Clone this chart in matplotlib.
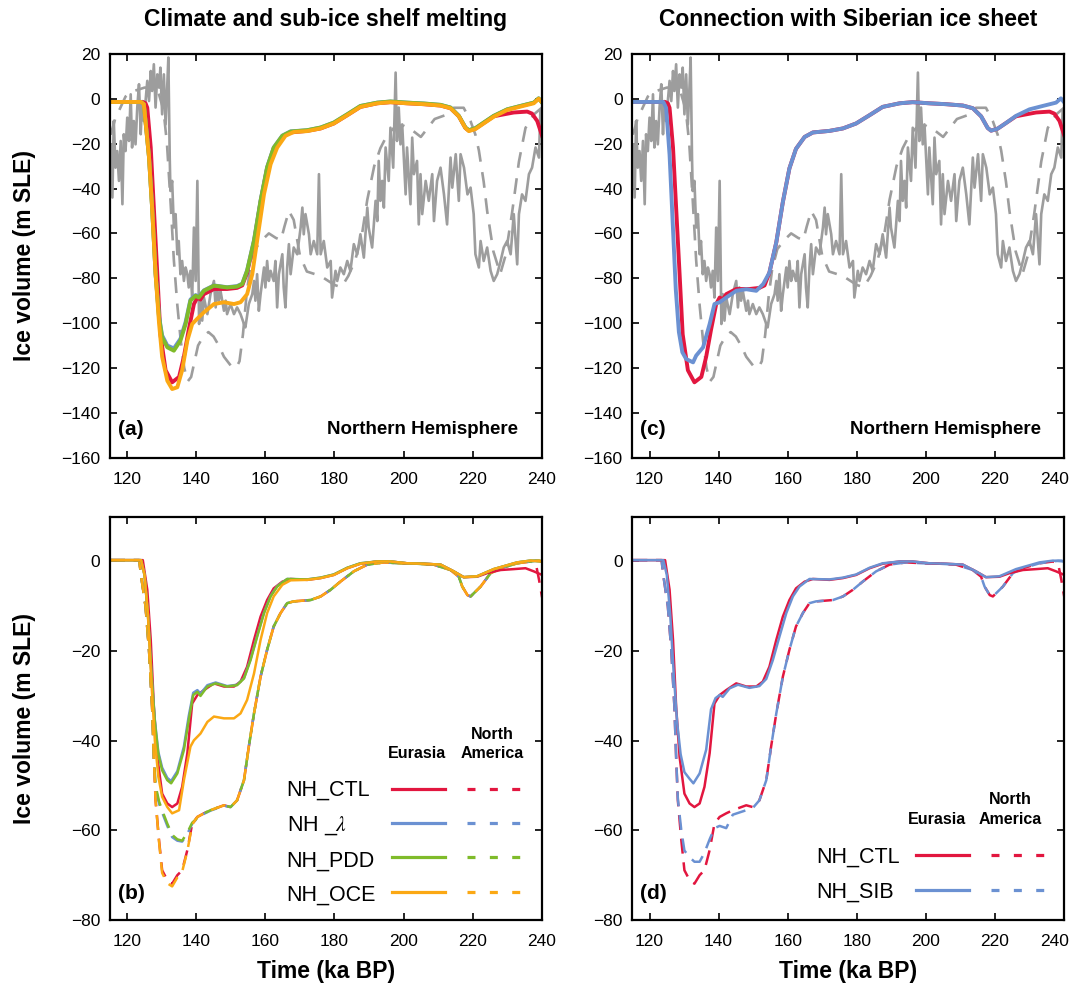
import numpy as np
import matplotlib
matplotlib.use('Agg')
import matplotlib.pyplot as plt
from matplotlib.lines import Line2D
from matplotlib.transforms import ScaledTranslation

plt.rcParams['font.family'] = ['Liberation Sans', 'DejaVu Sans']
plt.rcParams['mathtext.fontset'] = 'stix'

# ---- sea-level reconstructions (grey, panels a and c) ----
sl_age = [115.2, 115.7, 116.1, 116.6, 117.1, 117.6, 118.1, 118.6, 119.0, 119.5,
          120.0, 120.5, 121.0, 121.4, 121.9, 122.4, 122.9, 123.4, 123.9, 124.3,
          124.8, 125.8, 126.3, 126.8, 127.2, 127.7, 128.2, 128.7, 129.2, 129.6,
          130.1, 130.6, 131.1, 131.6, 131.9, 132.3, 132.5, 133.0, 133.5, 134.0,
          134.5, 134.9, 135.4, 135.9, 136.4, 136.9, 137.4, 137.8, 138.3, 138.8,
          139.3, 139.8, 140.3, 140.8, 141.2, 141.7, 142.2, 143.2, 144.1, 145.1,
          145.6, 146.0, 146.5, 147.0, 148.0, 148.5, 148.9, 149.9, 150.9, 151.8,
          152.8, 153.8, 154.2, 155.2, 156.2, 156.7, 157.1, 157.6, 158.1, 158.6,
          159.6, 160.0, 160.5, 161.0, 161.5, 162.4, 162.9, 163.4, 163.9, 164.9,
          165.3, 165.8, 166.3, 166.8, 167.3, 168.2, 169.2, 170.2, 170.7, 171.1,
          171.6, 172.6, 173.1, 174.0, 175.0, 175.5, 176.0, 176.9, 177.9, 178.9,
          179.3, 180.3, 180.8, 181.7, 182.7, 183.7, 184.6, 185.6, 186.6, 187.5,
          188.5, 189.5, 189.9, 190.9, 191.9, 192.4, 192.8, 193.3, 193.8, 194.3,
          194.8, 195.7, 196.2, 197.0, 197.7, 198.1, 198.6, 199.1, 199.6, 200.6,
          201.0, 202.0, 202.5, 203.0, 203.9, 204.4, 204.9, 205.4, 206.4, 207.3,
          208.3, 208.8, 209.7, 210.7, 211.7, 212.6, 213.6, 214.1, 215.1, 216.0,
          216.5, 217.5, 218.5, 219.4, 220.3, 220.8, 221.8, 222.3, 223.2, 224.2,
          225.2, 226.1, 227.1, 228.1, 229.0, 230.0, 231.0, 231.9, 232.9, 233.4,
          234.3, 235.3, 236.3, 237.2, 238.2, 239.2, 239.6]
sl_val = [-20.3, -44, -9.9, -30.7, -23.3, -36.6, -18.8, -47, -15.8, -23.3,
          -8.4, -18.8, 2, -21.7, -9.9, -20.3, -3.9, 6.5, -15.8, -1,
          -9.9, 8, -1, 12.4, 3.5, 15.4, -3.9, 10.9, 5, 13.9,
          -6.9, 10.9, -11.4, 6.5, 18.4, -26.2, -41.1, -36.6, -57.4, -51.4,
          -69.3, -63.4, -78.2, -72.3, -81.2, -75.2, -78.2, -84.1, -76.7, -88.6,
          -57.4, -81.2, -36.6, -100.4, -87.1, -98.9, -88.6, -96, -87.1, -81.2,
          -93, -84.1, -90, -85.6, -94.5, -90, -96, -91.5, -96, -93,
          -96, -100.4, -101.9, -91.5, -87.1, -81.2, -90, -78.2, -94.5, -87.1,
          -75.2, -84.1, -72.3, -81.2, -76.7, -81.2, -72.3, -93, -78.2, -69.3,
          -84.1, -93, -75.2, -64.8, -78.2, -66.3, -69.3, -57.4, -48.5, -60.4,
          -51.4, -60.4, -69.3, -63.4, -69.3, -33.6, -69.3, -63.4, -75.2, -72.3,
          -88.6, -76.7, -81.2, -75.2, -78.2, -72.3, -76.7, -64.8, -69.3, -60.4,
          -70.8, -48.5, -57.4, -66.3, -45.5, -54.5, -27.7, -45.5, -36.6, -48.5,
          -21.7, -36.6, -12.9, -30.7, 11.7, -18.8, -3.9, -20.3, -11.4, -42.6,
          -21.7, -47, -17.3, -33.6, -27.7, -56, -33.6, -51.4, -36.6, -45.5,
          -33.6, -54.5, -36.6, -30.7, -42.6, -56, -26.2, -39.6, -24.7, -45.5,
          -24.7, -30.7, -42.6, -39.6, -51.4, -69.3, -75.2, -63.4, -72.3, -66.3,
          -76.7, -81.2, -78.2, -72.3, -66.3, -63.4, -69.3, -51.4, -73.8, -51.4,
          -42.6, -45.5, -33.6, -30.7, -21.7, -26.2, -5.5]

sl2_age = [115.2, 116.5, 118, 119.5, 121, 123, 125, 127, 129, 130.5,
           131.5, 132.5, 133.5, 134.5, 135.5, 136.5, 137.5, 138.5, 139.5, 140.5,
           142, 143.5, 145, 146.5, 148, 150, 151.5, 152.5, 153.5, 154.5,
           155.5, 157, 159, 161, 163, 164.5, 165.5, 166.8, 168.2, 170,
           172, 174, 176, 178, 180, 182, 184, 186, 188, 189.5,
           191.5, 193.3, 195.3, 197.2, 200, 202.5, 205, 207, 209, 212.6,
           214.5, 217.4, 219.4, 220.8, 221.8, 223.2, 224.2, 226, 228, 229.5,
           231.4, 233.4, 235.3, 237.7, 240]
sl2_val = [-16, -9, -4, 1, 3, 4, 5, 5, 3, -5,
           -20, -45, -72, -92, -108, -120, -126, -124, -117, -110,
           -106, -104, -106, -110, -115, -119, -120, -117, -105, -88,
           -76, -67, -63, -60, -62, -63, -57, -50, -54, -70,
           -77, -78, -79, -81, -83, -84, -79, -72, -60, -45,
           -30, -22, -16, -13, -12, -14, -17, -13, -9, -7,
           -4, -4, -10, -16, -23, -37, -50, -68, -78, -70,
           -51, -28, -13, -7, -4]

# ---- Northern Hemisphere ice volume (panels a, c) ----
ctl_nh_age = [115, 124.5, 125.3, 125.8, 126.8, 127.7, 128.7, 129.6, 131.1, 133.0,
              135.0, 136.4, 137.8, 139.3, 140.3, 141.2, 142.2, 145.1, 148.9, 151.8,
              153.3, 154.7, 156.7, 158.6, 160.5, 162.4, 164.9, 167.3, 172.1, 176.0,
              179.8, 183.7, 187.5, 192.4, 196.2, 201.0, 205.9, 210.7, 213.6, 216.0,
              217.9, 218.9, 220.8, 223.2, 226.1, 228.1, 231.9, 235.8, 237.2, 238.7,
              240.1]
ctl_nh_val = [-1.4, -1.4, -2, -4, -21.7, -48.5, -78, -105, -121, -126.4,
              -124, -115, -103, -91.5, -88.6, -89.5, -87.1, -84.8, -84.8, -84.3,
              -83.2, -77.5, -64, -46, -31, -22.3, -17, -15, -14.3, -13.2,
              -11, -7.3, -3.6, -2, -1.5, -2, -2.4, -3, -4.2, -7.8,
              -13, -14.2, -13.3, -10.8, -7.8, -7.2, -6.1, -5.7, -6.6, -9.9,
              -16.5]

pdd_nh_age = [115, 124.0, 124.8, 126.3, 127.2, 128.2, 129.2, 130.1, 131.6, 133.5,
              135.4, 136.9, 138.3, 139.8, 140.7, 142.2, 145.1, 148.9, 151.8, 153.3,
              154.7, 156.7, 158.6, 160.5, 162.4, 164.9, 167.3, 172.1, 176.0, 179.8,
              183.7, 187.5, 192.4, 196.2, 201.0, 205.9, 210.7, 213.6, 216.0, 217.9,
              218.9, 220.8, 223.2, 226.1, 230.0, 233.8, 237.7, 239.1, 240.1]
pdd_nh_val = [-1.4, -1.4, -2.4, -26, -48.5, -78, -97.5, -106.4, -110.8, -112.3,
              -107.8, -100.4, -90, -87.8, -88.6, -85.6, -83.3, -84.1, -83.7, -82.6,
              -76.7, -63.3, -45.5, -30.6, -21.8, -16.5, -14.6, -14, -12.8, -10.6,
              -6.9, -3.2, -1.7, -1.2, -1.7, -2.1, -2.7, -3.9, -7.6, -12.8,
              -14, -13.1, -10.6, -7.6, -4.7, -3.2, -1.7, 0.2, -1.7]
lam_nh_val = [-1.4, -1.4, -2.4, -26, -48.5, -78, -97, -105.5, -110, -111.3,
              -107, -99.5, -89.5, -87.5, -88.2, -85.4, -83.2, -84, -83.5, -82.4,
              -76.5, -63, -45.3, -30.4, -21.7, -16.4, -14.5, -14, -12.8, -10.6,
              -6.9, -3.2, -1.7, -1.2, -1.7, -2.1, -2.7, -3.9, -7.6, -12.8,
              -14, -13.1, -10.6, -7.6, -4.7, -3.2, -1.7, 0.2, -1.7]

oce_nh_age = [115, 124.0, 124.8, 126.3, 127.2, 128.2, 129.2, 130.1, 131.6, 133.0,
              134.5, 135.9, 137.4, 138.8, 140.3, 142.2, 145.1, 148.0, 150.9, 152.8,
              154.7, 156.2, 157.6, 159.6, 161.5, 163.4, 165.8, 168.2, 172.1, 176.0,
              179.8, 183.7, 187.5, 192.4, 196.2, 201.0, 205.9, 210.7, 213.6, 216.0,
              217.9, 218.9, 220.8, 223.2, 226.1, 230.0, 233.8, 237.7, 239.1, 240.1]
oce_nh_val = [-1.4, -1.4, -2.4, -26, -48.5, -78, -100, -115, -125.7, -129.4,
              -128.6, -121, -107.8, -100.4, -98, -95.2, -91.5, -90.7, -91.5, -90.7,
              -87.1, -78.2, -63.3, -42.5, -29.2, -21.8, -16.5, -14.8, -14.4, -13.2,
              -11, -7.3, -3.6, -2, -1.5, -2, -2.4, -3, -4.2, -7.8,
              -13, -14.4, -13.5, -11, -8, -5, -3.5, -2, 0, -1.5]

sib_nh_age = [115, 124.0, 124.8, 125.8, 126.7, 127.6, 128.5, 129.5, 130.6, 132.6,
              133.5, 135.5, 137.4, 138.8, 140.3, 142.2, 145.1, 148.0, 150.9, 152.9,
              154.7, 156.7, 158.6, 160.5, 162.4, 164.9, 167.3, 172.1, 176.0, 179.8,
              183.7, 187.5, 192.4, 196.2, 201.0, 205.9, 210.7, 213.6, 216.0, 217.9,
              218.9, 220.8, 223.2, 226.1, 230.0, 233.8, 237.7, 239.1, 240.1]
sib_nh_val = [-1.4, -1.4, -4, -25, -55, -85, -104, -113, -116, -117.5,
              -114.5, -110.8, -100.4, -91.5, -90.7, -88.6, -85.6, -84.9, -85.6, -82.6,
              -77.5, -64, -46, -31, -22.3, -17, -15, -14.3, -13.2, -11,
              -7.3, -3.6, -2, -1.5, -2, -2.4, -3, -4.2, -7.8, -13,
              -14.2, -13.3, -10.8, -7.6, -4.7, -3.2, -1.7, 0.2, -1.7]

# ---- Eurasia (solid) and North America (dashed), panels b, d ----
ctl_eu_age = [115, 124.5, 125.8, 126.8, 127.7, 128.7, 130.1, 131.6, 133.0, 134.5,
              135.9, 137.4, 138.8, 140.3, 142.2, 145.1, 148.0, 150.9, 152.8, 154.7,
              156.7, 158.6, 160.5, 162.4, 164.9, 167.3, 172.1, 176.0, 179.8, 183.7,
              187.5, 192.4, 196.2, 201.0, 205.9, 210.7, 214.5, 217.4, 221.3, 224.2,
              228.1, 231.9, 235.3, 237.7, 240.1]
ctl_eu_val = [0.3, 0.3, -6.3, -17.5, -32.4, -43.6, -51.8, -54, -54.8, -54,
              -50.3, -42.8, -31.7, -29.8, -28.7, -27.2, -27.9, -27.9, -26.8, -23.5,
              -17.5, -12.3, -8.6, -6, -4.5, -3.9, -4.1, -3.7, -3, -1.5,
              -0.5, 0, 0, -0.4, -0.5, -0.7, -2.2, -3.5, -3.4, -2.6,
              -1.9, -1.7, -1.5, -2.2, -3]

eu_age = [115, 124.0, 125.0, 126.0, 127.0, 128.0, 129.0, 130.1, 131.6, 132.7,
          134.5, 136.4, 137.8, 139.1, 140.3, 141.2, 143.2, 145.6, 148.9, 151.8,
          153.8, 155.7, 157.6, 159.6, 161.5, 163.4, 166.3, 172.1, 176.0, 179.8,
          183.7, 187.5, 192.4, 196.2, 201.0, 205.9, 210.7, 214.5, 217.4, 221.3,
          226.1, 232.9, 236.8, 240.1]
pdd_eu_val = [0.3, 0.3, -3, -12, -25, -36, -43, -46.6, -48.8, -49.5,
              -47.3, -42.1, -35.4, -29.8, -29.1, -30, -27.9, -27.2, -27.9, -27.6,
              -26.1, -22, -16.8, -11.5, -7.8, -5.6, -3.9, -4, -3.6, -2.9,
              -1.4, -0.4, 0, 0, -0.4, -0.5, -0.7, -2.2, -3.5, -3.3,
              -1.7, -0.2, 0.2, 0]
lam_eu_val = [0.3, 0.3, -3, -12, -25, -35.5, -42.5, -46, -48.3, -49,
              -46.8, -41.3, -34.5, -29.3, -28.7, -29.5, -27.6, -27, -27.8, -27.5,
              -26, -21.8, -16.6, -11.4, -7.7, -5.5, -3.9, -4, -3.6, -2.9,
              -1.4, -0.4, 0, 0, -0.4, -0.5, -0.7, -2.2, -3.5, -3.3,
              -1.7, -0.2, 0.2, 0]
sib_eu_val = [0.3, 0.3, -3, -12, -25, -36, -43, -47, -48.5, -49.5,
              -47.3, -42, -33, -30.5, -29.8, -30.2, -28.3, -27.5, -28.2, -27.8,
              -26.2, -22, -16.8, -11.5, -7.8, -5.6, -3.9, -4, -3.6, -2.9,
              -1.4, -0.4, 0, 0, -0.4, -0.5, -0.7, -2.2, -3.5, -3.3,
              -1.7, -0.2, 0.2, 0]

oce_eu_age = [115, 124.0, 125.0, 126.0, 127.0, 128.0, 129.0, 130.1, 131.6, 133.0,
              135.0, 136.4, 138.3, 139.3, 141.2, 143.2, 145.1, 148.0, 150.9, 152.8,
              154.7, 156.7, 158.6, 160.5, 162.4, 164.9, 167.3, 172.1, 176.0, 179.8,
              183.7, 187.5, 192.4, 196.2, 201.0, 205.9, 210.7, 214.5, 217.4, 221.3,
              226.1, 232.9, 236.8, 240.1]
oce_eu_val = [0.3, 0.3, -3, -12, -27, -40, -48, -52.5, -54.8, -56.2,
              -55.5, -48.8, -41.3, -39.9, -38.4, -35.8, -34.6, -35, -35, -33.9,
              -30.9, -25, -17.5, -11.5, -7.8, -5.2, -4.2, -4.1, -3.7, -3,
              -1.5, -0.5, 0, 0, -0.4, -0.5, -0.7, -2.2, -3.5, -3.3,
              -1.7, -0.2, 0.2, 0]

na_age = [115, 123.5, 123.9, 125.3, 126.3, 127.2, 127.7, 128.2, 129.2, 130.1,
          131.6, 133.0, 134.5, 135.9, 137.4, 138.8, 140.3, 142.2, 144.1, 148.0,
          149.9, 151.8, 153.8, 155.2, 156.7, 158.6, 160.5, 162.4, 164.4, 166.3,
          168.2, 173.1, 176.0, 178.9, 181.7, 185.6, 189.5, 194.3, 199.1, 203.9,
          208.7, 213.6, 216.0, 217.0, 218.5, 219.4, 222.3, 225.2, 228.1, 232.9,
          236.8, 238.3, 239.2, 240.1]
ctl_na_val = [0.3, 0.3, -2.6, -10, -19.7, -32.4, -43.6, -53.3, -62.2, -68.9,
              -71.1, -71.9, -70, -68.9, -64.4, -58.5, -57, -56.2, -55.5, -54.4,
              -54.8, -53.3, -48.8, -41.3, -33.9, -25.7, -19.7, -14.5, -11.5, -9.3,
              -8.9, -8.6, -7.8, -6.3, -4.5, -2.2, -0.7, -0.2, -0.4, -0.5,
              -0.7, -1.9, -3.4, -5.6, -7.5, -7.8, -5.6, -2.6, -1.5, -0.4,
              0, -0.5, -4, -8]
pdd_na_val = [0.3, 0.3, -2.6, -10, -19.7, -32.4, -43.6, -50, -53.5, -55.5,
              -58.5, -61, -62, -62.3, -60.5, -58.3, -57.2, -56.2, -55.5, -54.4,
              -54.8, -53.3, -48.8, -41.3, -33.9, -25.7, -19.7, -14.5, -11.5, -9.3,
              -8.9, -8.6, -7.8, -6.3, -4.5, -2.2, -0.7, -0.2, -0.4, -0.5,
              -0.7, -1.9, -3.4, -5.6, -7.5, -7.8, -5.6, -2.6, -1.5, -0.4,
              0, 0.2, 0.2, 0]
lam_na_val = [0.3, 0.3, -2.6, -10, -19.7, -32.4, -43.6, -50.5, -54, -56,
              -59, -61.5, -62.3, -62.5, -60.8, -58.5, -57.3, -56.3, -55.6, -54.5,
              -54.8, -53.3, -48.8, -41.3, -33.9, -25.7, -19.7, -14.5, -11.5, -9.3,
              -8.9, -8.6, -7.8, -6.3, -4.5, -2.2, -0.7, -0.2, -0.4, -0.5,
              -0.7, -1.9, -3.4, -5.6, -7.5, -7.8, -5.6, -2.6, -1.5, -0.4,
              0, 0.2, 0.2, 0]
oce_na_val = [0.3, 0.3, -2.6, -10, -19.7, -32.4, -43.6, -53.3, -62.5, -69.5,
              -71.8, -72.5, -70.5, -69.2, -64.6, -58.7, -57, -56.2, -55.5, -54.4,
              -54.8, -53.3, -48.8, -41.3, -33.9, -25.7, -19.7, -14.5, -11.5, -9.3,
              -8.9, -8.6, -7.8, -6.3, -4.5, -2.2, -0.7, -0.2, -0.4, -0.5,
              -0.7, -1.9, -3.4, -5.6, -7.5, -7.8, -5.6, -2.6, -1.5, -0.4,
              0, 0.2, 0.2, 0]
sib_na_val = [0.3, 0.3, -2.6, -10, -19.7, -32.4, -43.6, -53, -60, -64.5,
              -66, -67, -67, -65, -62, -59.5, -59, -59.5, -56.5, -55.5,
              -55, -53.3, -48.8, -41.3, -33.9, -25.7, -19.7, -14.5, -11.5, -9.3,
              -8.9, -8.6, -7.8, -6.3, -4.5, -2.2, -0.7, -0.2, -0.4, -0.5,
              -0.7, -1.9, -3.4, -5.6, -7.5, -7.8, -5.6, -2.6, -1.5, -0.4,
              0, 0.2, 0.2, 0]

RED = '#e2163f'
BLUE = '#6b91d2'
GREEN = '#7fbb2a'
ORANGE = '#fba814'
GREY = '#9d9d9d'

fig = plt.figure(figsize=(10.74, 9.9), dpi=100)
ax_a = fig.add_axes([0.1024, 0.5377, 0.4020, 0.4078])
ax_c = fig.add_axes([0.5887, 0.5377, 0.4020, 0.4078])
ax_b = fig.add_axes([0.1024, 0.0707, 0.4020, 0.4074])
ax_d = fig.add_axes([0.5887, 0.0707, 0.4020, 0.4074])

for ax in (ax_a, ax_c):
    ax.plot(sl_age, sl_val, color=GREY, lw=1.9)
    ax.plot(sl2_age, sl2_val, color=GREY, lw=1.9, dashes=(6, 4))
    ax.set_ylim(-160, 20)
    ax.set_yticks(np.arange(-160, 21, 20))

ax_a.plot(ctl_nh_age, ctl_nh_val, color=RED, lw=2.8)
ax_a.plot(pdd_nh_age, lam_nh_val, color=BLUE, lw=2.8)
ax_a.plot(pdd_nh_age, pdd_nh_val, color=GREEN, lw=2.8)
ax_a.plot(oce_nh_age, oce_nh_val, color=ORANGE, lw=2.8)

ax_c.plot(ctl_nh_age, ctl_nh_val, color=RED, lw=2.8)
ax_c.plot(sib_nh_age, sib_nh_val, color=BLUE, lw=2.8)

dash = (6, 3.5)
ax_b.plot(na_age, ctl_na_val, color=RED, lw=1.8, dashes=dash)
ax_b.plot(na_age, lam_na_val, color=BLUE, lw=1.8, dashes=dash)
ax_b.plot(na_age, pdd_na_val, color=GREEN, lw=1.8, dashes=dash)
ax_b.plot(na_age, oce_na_val, color=ORANGE, lw=1.8, dashes=dash)
ax_b.plot(ctl_eu_age, ctl_eu_val, color=RED, lw=1.8)
ax_b.plot(eu_age, lam_eu_val, color=BLUE, lw=1.8)
ax_b.plot(eu_age, pdd_eu_val, color=GREEN, lw=1.8)
ax_b.plot(oce_eu_age, oce_eu_val, color=ORANGE, lw=1.8)

ax_d.plot(na_age, ctl_na_val, color=RED, lw=1.8, dashes=dash)
ax_d.plot(na_age, sib_na_val, color=BLUE, lw=1.8, dashes=dash)
ax_d.plot(ctl_eu_age, ctl_eu_val, color=RED, lw=1.8)
ax_d.plot(eu_age, sib_eu_val, color=BLUE, lw=1.8)

for ax in (ax_b, ax_d):
    ax.set_ylim(-80, 10)
    ax.set_yticks(np.arange(-80, 1, 20))

for ax in (ax_a, ax_b, ax_c, ax_d):
    ax.set_xlim(115, 240)
    ax.set_xticks(np.arange(120, 241, 20))
    ax.tick_params(direction='in', top=True, right=True, length=5, width=1.2,
                   labelsize=12.5)
    ax.tick_params(axis='x', pad=10)
    ax.tick_params(axis='y', pad=7)
    for s in ax.spines.values():
        s.set_linewidth(1.6)

# keep the last tick label of the right-hand panels inside the figure
for ax in (ax_c, ax_d):
    lbl = ax.get_xticklabels()[-1]
    lbl.set_transform(lbl.get_transform() +
                      ScaledTranslation(-7 / 72, 0, fig.dpi_scale_trans))

for ax in (ax_a, ax_b):
    ax.set_ylabel('Ice volume (m SLE)', fontsize=16.5, fontweight='bold')
    ax.yaxis.set_label_coords(-0.172, 0.5)
for ax in (ax_b, ax_d):
    ax.set_xlabel('Time (ka BP)', fontsize=16.5, fontweight='bold', labelpad=8)

fig.text(0.3035, 0.98, 'Climate and sub-ice shelf melting', ha='center', va='center',
         fontsize=16.5, fontweight='bold')
fig.text(0.79, 0.98, 'Connection with Siberian ice sheet', ha='center', va='center',
         fontsize=16.5, fontweight='bold')

for ax, tag in ((ax_a, '(a)'), (ax_c, '(c)')):
    ax.text(0.019, 0.069, tag, transform=ax.transAxes, fontsize=15, fontweight='bold',
            va='center', ha='left')
    ax.text(0.946, 0.069, 'Northern Hemisphere', transform=ax.transAxes, fontsize=13.5,
            fontweight='bold', va='center', ha='right')
for ax, tag in ((ax_b, '(b)'), (ax_d, '(d)')):
    ax.text(0.019, 0.066, tag, transform=ax.transAxes, fontsize=15, fontweight='bold',
            va='center', ha='left')


def add_key(ax, names, colors, x0, y0, hx, hy):
    blank = [Line2D([], [], color='none') for _ in names]
    solid = [Line2D([], [], color=c, lw=2.3) for c in colors]
    dashed = [Line2D([], [], color=c, lw=2.3, dashes=(2.5, 4.5)) for c in colors]
    ax.legend(blank + solid + dashed, list(names) + [''] * (2 * len(names)),
              ncol=3, frameon=False, fontsize=15.5, handlelength=2.45,
              handletextpad=0.3, columnspacing=0.75, labelspacing=0.62,
              loc='upper left', bbox_to_anchor=(x0, y0), borderpad=0,
              borderaxespad=0)
    ax.text(hx[0], hy[1], 'Eurasia', transform=ax.transAxes, fontsize=11.5,
            fontweight='bold', ha='center', va='center')
    ax.text(hx[1], hy[1], 'America', transform=ax.transAxes, fontsize=11.5,
            fontweight='bold', ha='center', va='center')
    ax.text(hx[1], hy[0], 'North', transform=ax.transAxes, fontsize=11.5,
            fontweight='bold', ha='center', va='center')


add_key(ax_b, ['NH_CTL', r'NH _$\lambda$', 'NH_PDD', 'NH_OCE'],
        [RED, BLUE, GREEN, ORANGE], 0.272, 0.347, (0.711, 0.885), (0.461, 0.414))
add_key(ax_d, ['NH_CTL', 'NH_SIB'], [RED, BLUE], 0.289, 0.181,
        (0.705, 0.875), (0.298, 0.248))

fig.savefig('out.png', dpi=100)
